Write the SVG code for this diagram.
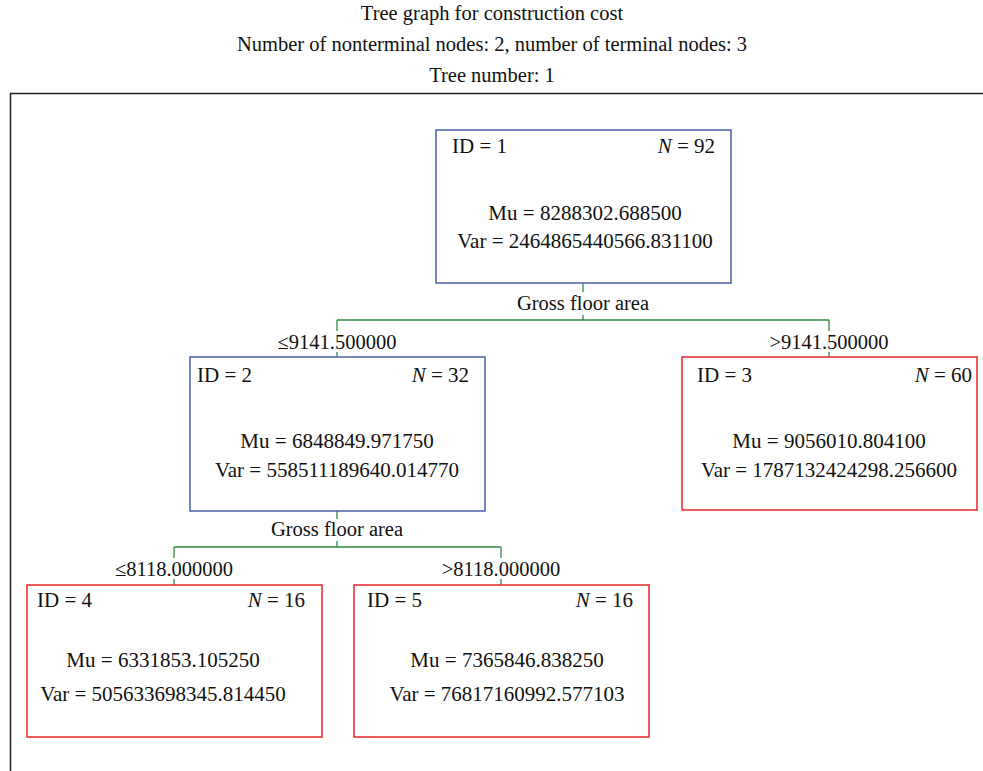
<svg xmlns="http://www.w3.org/2000/svg" width="983" height="771" viewBox="0 0 983 771">
<style>
text{font-family:"Liberation Serif","Times New Roman",serif;fill:#111}
.t{font-size:20.5px;text-anchor:middle}
.n{font-size:21px}
.m{text-anchor:middle}
.e{text-anchor:end}
.i{font-style:italic}
.blue{fill:#fff;stroke:#4a5fb0;stroke-width:1.5}
.red{fill:#fff;stroke:#e8262b;stroke-width:1.5}
.c line{stroke:#2f8a45;stroke-width:1.3}
.c text{font-size:20.5px;text-anchor:middle}
</style>
<rect width="983" height="771" fill="#fff"/>
<g id="title">
<text class="t" x="492" y="20">Tree graph for construction cost</text>
<text class="t" x="492" y="51">Number of nonterminal nodes: 2, number of terminal nodes: 3</text>
<text class="t" x="492" y="82">Tree number: 1</text>
</g>
<path d="M10.5 771 V93.5 H983" fill="none" stroke="#222" stroke-width="1.5"/>
<g id="connectors" class="c">
<line x1="583" y1="283" x2="583" y2="292"/>
<text x="583" y="310">Gross floor area</text>
<line x1="583" y1="315" x2="583" y2="320"/>
<line x1="337" y1="320" x2="829" y2="320"/>
<line x1="337" y1="320" x2="337" y2="331"/>
<line x1="829" y1="320" x2="829" y2="331"/>
<text x="337" y="349">≤9141.500000</text>
<text x="829" y="349">&gt;9141.500000</text>
<line x1="337" y1="352" x2="337" y2="357"/>
<line x1="829" y1="352" x2="829" y2="357"/>
<line x1="337" y1="511" x2="337" y2="519"/>
<text x="337" y="536">Gross floor area</text>
<line x1="337" y1="541" x2="337" y2="547"/>
<line x1="174" y1="547" x2="501" y2="547"/>
<line x1="174" y1="547" x2="174" y2="558"/>
<line x1="501" y1="547" x2="501" y2="558"/>
<text x="174" y="576">≤8118.000000</text>
<text x="501" y="576">&gt;8118.000000</text>
<line x1="174" y1="579" x2="174" y2="585"/>
<line x1="501" y1="579" x2="501" y2="585"/>
</g>
<g id="node1">
<rect class="blue" x="436" y="130" width="295" height="153"/>
<text class="n" x="452" y="153">ID = 1</text>
<text class="n e" x="715" y="153"><tspan class="i">N</tspan> = 92</text>
<text class="n m" x="585" y="220">Mu = 8288302.688500</text>
<text class="n m" x="585" y="248">Var = 2464865440566.831100</text>
</g>
<g id="node2">
<rect class="blue" x="190" y="357" width="295" height="154"/>
<text class="n" x="197" y="382">ID = 2</text>
<text class="n e" x="469" y="382"><tspan class="i">N</tspan> = 32</text>
<text class="n m" x="337" y="448">Mu = 6848849.971750</text>
<text class="n m" x="337" y="477">Var = 558511189640.014770</text>
</g>
<g id="node3">
<rect class="red" x="682" y="357" width="295" height="153"/>
<text class="n" x="697" y="382">ID = 3</text>
<text class="n e" x="972" y="382"><tspan class="i">N</tspan> = 60</text>
<text class="n m" x="829" y="448">Mu = 9056010.804100</text>
<text class="n m" x="829" y="477">Var = 1787132424298.256600</text>
</g>
<g id="node4">
<rect class="red" x="27" y="585" width="295" height="152"/>
<text class="n" x="37" y="607">ID = 4</text>
<text class="n e" x="305" y="607"><tspan class="i">N</tspan> = 16</text>
<text class="n m" x="163" y="667">Mu = 6331853.105250</text>
<text class="n m" x="163" y="701">Var = 505633698345.814450</text>
</g>
<g id="node5">
<rect class="red" x="354" y="585" width="295" height="152"/>
<text class="n" x="367" y="607">ID = 5</text>
<text class="n e" x="633" y="607"><tspan class="i">N</tspan> = 16</text>
<text class="n m" x="507" y="667">Mu = 7365846.838250</text>
<text class="n m" x="507" y="701">Var = 76817160992.577103</text>
</g>
</svg>
